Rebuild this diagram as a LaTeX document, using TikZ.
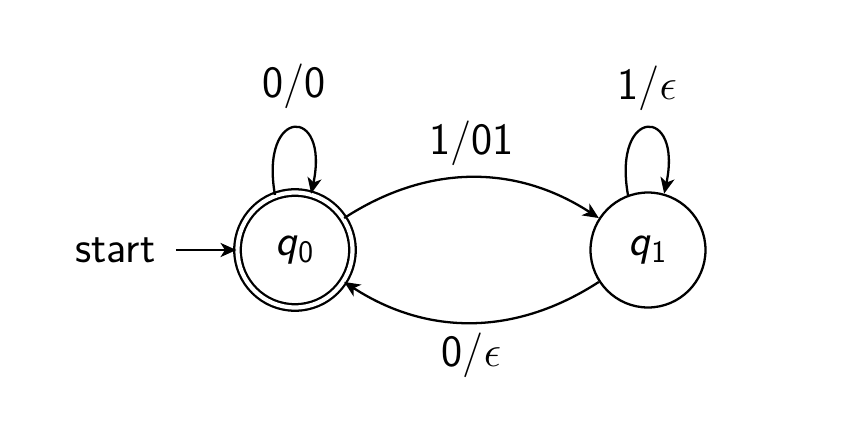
\documentclass[tikz,border=0pt]{standalone}
\usetikzlibrary{arrows.meta}
\begin{document}
\begin{tikzpicture}[x=0.02cm,y=-0.02cm,
  font=\sffamily\fontsize{25.5}{30}\selectfont,
  every path/.style={line width=1.3pt},
  edgeline/.style={draw,-{Stealth[length=9pt,width=8pt,inset=2.5pt]}},
  state/.style={draw,circle,inner sep=0pt}]
\useasboundingbox (0,0) rectangle (851,439);
\node[state,minimum size=2.3cm,double,double distance=2.4pt] (q0) at (295,250) {\textsl{q}\textsubscript{0}};
\node[state,minimum size=2.3cm] (q1) at (648,250) {\textsl{q}\textsubscript{1}};
\node[anchor=east,inner sep=2pt] (st) at (160,250) {start};
\draw[edgeline,shorten <=9pt] (st) -- (q0);
\draw[edgeline] (q0.110) .. controls +(100:1.8cm) and +(78:1.8cm) .. (q0.74) node[pos=0.5,above=0.25cm] (l00) {0/0};
\draw[edgeline] (q1.110) .. controls +(100:1.8cm) and +(78:1.8cm) .. (q1.74) node[pos=0.5,above=0.2cm] (l1e) {1/$\epsilon$};
\draw[edgeline] (q0) to[bend left=33] node[pos=0.5,above=0.1cm] (l101) {1/01} (q1);
\draw[edgeline] (q1) to[bend left=33] node[pos=0.5,below=0.06cm] (l0e) {0/$\epsilon$} (q0);
\end{tikzpicture}
\end{document}
